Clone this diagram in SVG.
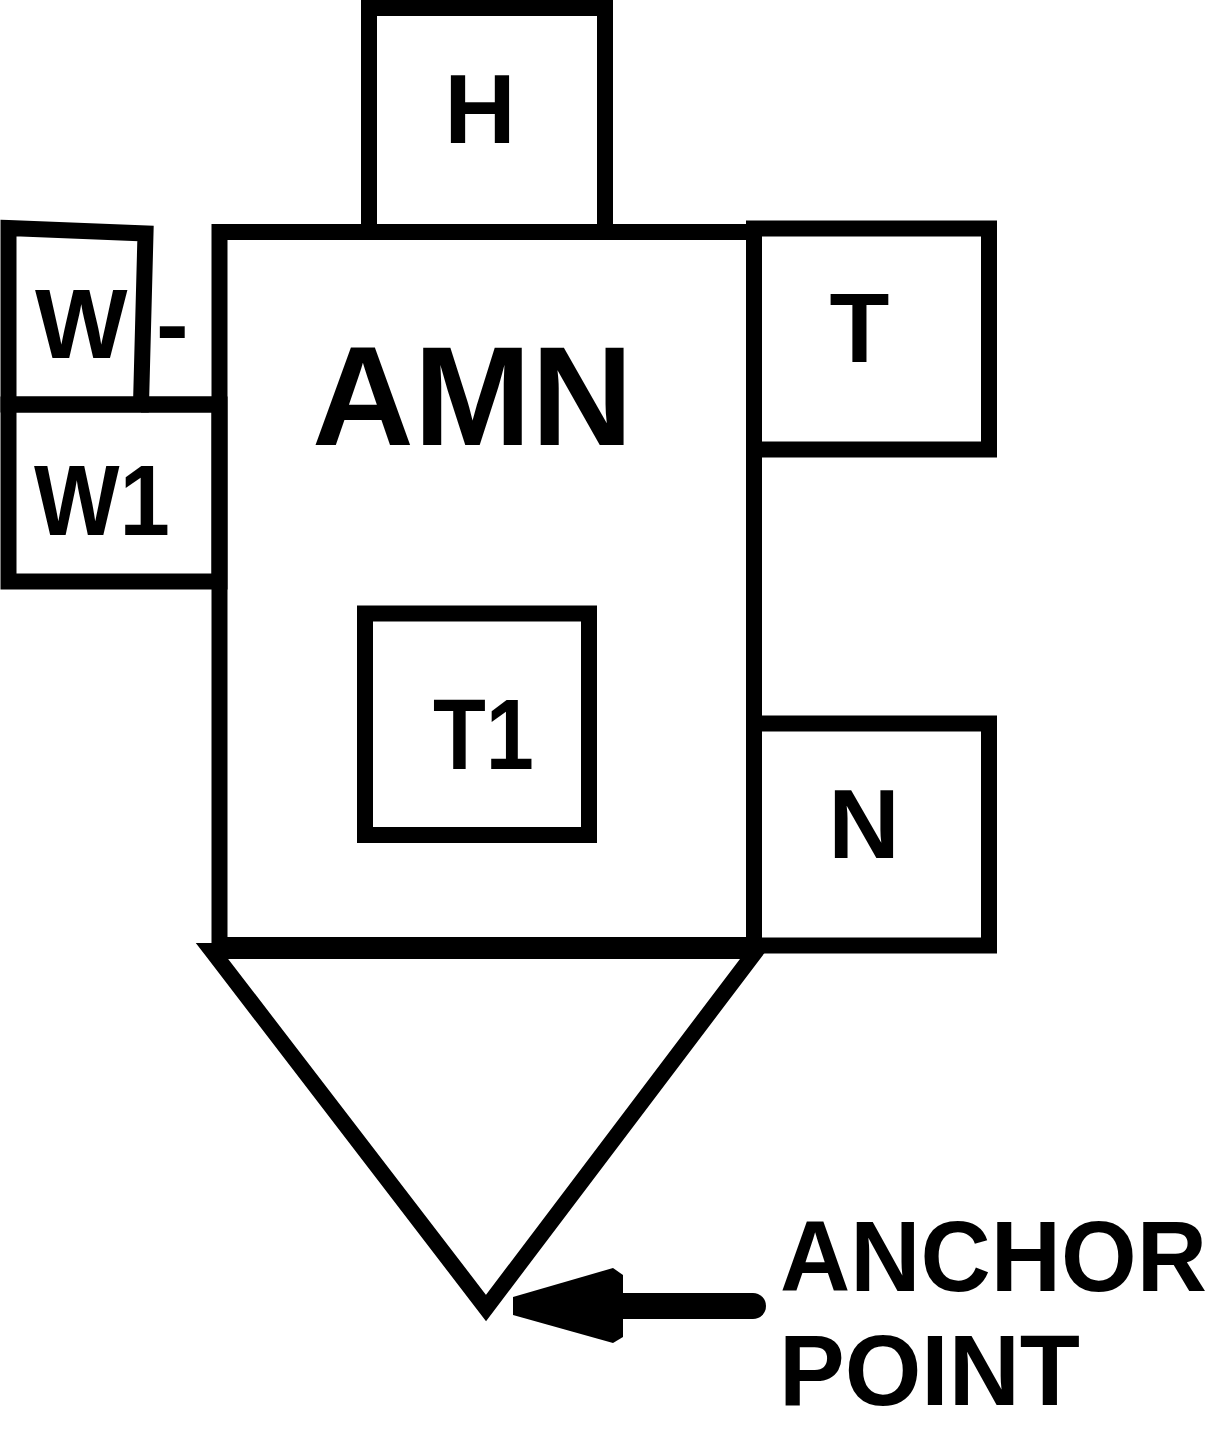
<svg xmlns="http://www.w3.org/2000/svg" width="1213" height="1443" viewBox="0 0 1213 1443">
<style>
.box{fill:none;stroke:#000;stroke-width:16;stroke-linejoin:miter}
.lbl{font-family:"Liberation Sans",Arial,sans-serif;font-weight:bold;fill:#000}
</style>
<rect width="1213" height="1443" fill="#fff"/>
<g id="anchor-triangle">
<polygon class="box" points="212,951 486,1308 756,951" stroke-width="18"/>
</g>
<g id="H">
<rect class="box" x="369" y="8" width="236" height="224"/>
<text class="lbl" x="480" y="143" font-size="99" text-anchor="middle">H</text>
</g>
<g id="AMN">
<rect class="box" x="219.5" y="232" width="534.5" height="713"/>
<text class="lbl" x="312" y="445" font-size="141">AMN</text>
</g>
<g id="W-">
<polygon class="box" points="8.5,228 145.5,233.5 141,404.5 8.5,404.5"/>
<line class="box" x1="141" y1="404.5" x2="219.5" y2="404.5"/>
<text class="lbl" x="35" y="358" font-size="98">W</text>
<text class="lbl" x="156" y="358" font-size="98">-</text>
</g>
<g id="W1">
<rect class="box" x="8.5" y="404.5" width="211" height="177"/>
<text class="lbl" x="34" y="535" font-size="100" textLength="136" lengthAdjust="spacingAndGlyphs">W1</text>
</g>
<g id="T">
<rect class="box" x="754" y="228.5" width="235" height="221"/>
<text class="lbl" x="859.5" y="362" font-size="98" text-anchor="middle">T</text>
</g>
<g id="N">
<rect class="box" x="754" y="723.5" width="235" height="222"/>
<text class="lbl" x="864" y="858" font-size="99" text-anchor="middle">N</text>
</g>
<g id="T1">
<rect class="box" x="365" y="613.5" width="224" height="221.5"/>
<text class="lbl" x="433" y="769" font-size="100" textLength="101" lengthAdjust="spacingAndGlyphs">T1</text>
</g>
<g id="connectors">
<line x1="620" y1="1306" x2="753" y2="1306" stroke="#000" stroke-width="26" stroke-linecap="round"/>
<polygon points="513,1297 613,1268 623,1275 623,1337 613,1343 513,1315" fill="#000"/>
</g>
<g id="label">
<text class="lbl" x="780" y="1291" font-size="100" textLength="427" lengthAdjust="spacingAndGlyphs">ANCHOR</text>
<text class="lbl" x="779" y="1405" font-size="100" textLength="301" lengthAdjust="spacingAndGlyphs">POINT</text>
</g>
</svg>
